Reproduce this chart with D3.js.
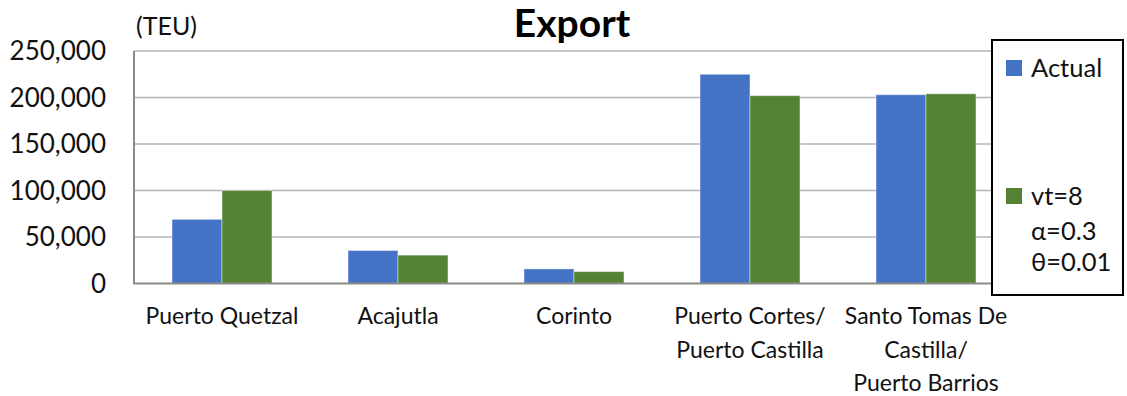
<!DOCTYPE html>
<html>
<head>
<meta charset="utf-8">
<script src="https://cdn.jsdelivr.net/npm/d3@7"></script>
<style>
  html, body { margin: 0; padding: 0; background: #fff; }
  svg { display: block; font-family: Lato, "Open Sans", sans-serif; }
</style>
</head>
<body>
<svg id="chart" width="1127" height="396"></svg>
<script>
// Export volumes by port (TEU)
const ports = [
  ["Puerto Quetzal"],
  ["Acajutla"],
  ["Corinto"],
  ["Puerto Cortes/", "Puerto Castilla"],
  ["Santo Tomas De", "Castilla/", "Puerto Barrios"]
];
const actual = [69000, 35500, 15700, 225000, 203000];
const model  = [100000, 30500, 12800, 202000, 204000];
const seriesNames = ["Actual", "vt=8"];
const legendExtra = ["α=0.3", "θ=0.01"];
const yTicks = [0, 50000, 100000, 150000, 200000, 250000];

const colors = ["#4472C4", "#548235"];
const svg = d3.select("#chart");

const plotLeft = 134, plotRight = 1014, plotTop = 51, plotBottom = 283.5;

const x = d3.scaleBand()
  .domain(d3.range(ports.length))
  .range([plotLeft, plotRight])
  .paddingInner(0.432)
  .paddingOuter(0.216);
const xs = d3.scaleBand().domain([0, 1]).range([0, x.bandwidth()]);
const y = d3.scaleLinear().domain([0, 250000]).range([plotBottom, plotTop]);

// horizontal gridlines
svg.append("g")
  .selectAll("line")
  .data(yTicks.filter(d => d > 0))
  .join("line")
  .attr("x1", plotLeft).attr("x2", plotRight)
  .attr("y1", d => y(d)).attr("y2", d => y(d))
  .attr("stroke", "#b4b4b4").attr("stroke-width", 1.3);

// y tick labels
const fmt = d3.format(",");
svg.append("g")
  .selectAll("text")
  .data(yTicks)
  .join("text")
  .attr("x", 106).attr("y", d => y(d))
  .attr("dy", "0.35em")
  .attr("text-anchor", "end")
  .attr("font-size", 26)
  .attr("fill", "#111")
  .text(d => fmt(d));

// bars
const series = [actual, model];
series.forEach((vals, si) => {
  svg.append("g")
    .selectAll("rect")
    .data(vals)
    .join("rect")
    .attr("x", (d, i) => x(i) + xs(si))
    .attr("y", d => y(d))
    .attr("width", xs.bandwidth())
    .attr("height", d => y(0) - y(d))
    .attr("fill", colors[si])
    .attr("stroke", "rgba(255,255,255,0.45)")
    .attr("stroke-width", 1);
});

// axis lines
svg.append("line")
  .attr("x1", plotLeft).attr("x2", plotLeft)
  .attr("y1", plotTop).attr("y2", plotBottom)
  .attr("stroke", "#8a8a8a").attr("stroke-width", 2);
svg.append("line")
  .attr("x1", plotLeft - 1).attr("x2", plotRight)
  .attr("y1", plotBottom).attr("y2", plotBottom)
  .attr("stroke", "#8a8a8a").attr("stroke-width", 2);

// category labels
const cat = svg.append("g")
  .selectAll("text")
  .data(ports)
  .join("text")
  .attr("x", (d, i) => x(i) + x.bandwidth() / 2)
  .attr("y", 324)
  .attr("text-anchor", "middle")
  .attr("font-size", 23)
  .attr("fill", "#111");
cat.selectAll("tspan")
  .data(d => d)
  .join("tspan")
  .attr("x", function () { return this.parentNode.getAttribute("x"); })
  .attr("dy", (d, i) => i === 0 ? 0 : 33.5)
  .text(d => d);

// title and unit
svg.append("text")
  .attr("x", 572).attr("y", 37)
  .attr("text-anchor", "middle")
  .attr("font-size", 39)
  .attr("font-weight", "bold")
  .attr("fill", "#000")
  .text("Export");
svg.append("text")
  .attr("x", 136).attr("y", 35)
  .attr("font-size", 25)
  .attr("fill", "#111")
  .text("(TEU)");

// legend
const lg = svg.append("g");
lg.append("rect")
  .attr("x", 992).attr("y", 40)
  .attr("width", 131).attr("height", 255)
  .attr("fill", "#fff")
  .attr("stroke", "#000").attr("stroke-width", 2);
const legendY = [68, 196];
seriesNames.forEach((name, i) => {
  lg.append("rect")
    .attr("x", 1006).attr("y", legendY[i] - 8)
    .attr("width", 16).attr("height", 16)
    .attr("fill", colors[i]);
  lg.append("text")
    .attr("x", 1031).attr("y", legendY[i])
    .attr("dy", "0.35em")
    .attr("font-size", 25.5)
    .attr("fill", "#111")
    .text(name);
});
legendExtra.forEach((t, i) => {
  lg.append("text")
    .attr("x", 1031).attr("y", 231 + i * 31)
    .attr("dy", "0.35em")
    .attr("font-size", 25.5)
    .attr("fill", "#111")
    .text(t);
});
</script>
</body>
</html>
